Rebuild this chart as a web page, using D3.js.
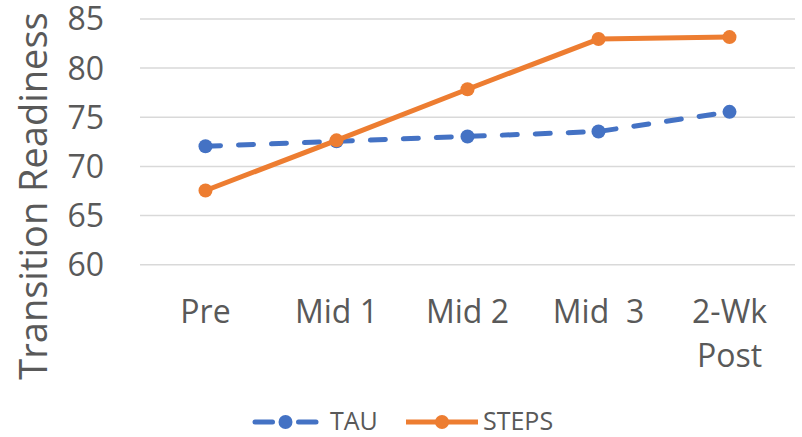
<!DOCTYPE html>
<html>
<head>
<meta charset="utf-8">
<script src="https://cdn.jsdelivr.net/npm/d3@7"></script>
<style>
  body { margin: 0; background: #ffffff; }
  svg { display: block; }
  text { font-family: "Open Sans", "DejaVu Sans", sans-serif; fill: #595959; white-space: pre; }
</style>
</head>
<body>
<svg id="chart" width="802" height="437"></svg>
<script>
// Measurement points (a "\n" splits a label over two lines)
const categories = ["Pre", "Mid 1", "Mid 2", "Mid  3", "2-Wk\nPost"];
// Mean transition readiness per group
const tauValues = [72.0, 72.5, 73.0, 73.5, 75.5];
const stepsValues = [67.5, 72.6, 77.8, 82.9, 83.1];
// Y axis ticks
const yTicks = [60, 65, 70, 75, 80, 85];
const seriesNames = ["TAU", "STEPS"];
const yTitle = "Transition Readiness";

const colors = { TAU: "#4472C4", STEPS: "#ED7D31" };
const series = [
  { name: seriesNames[0], values: tauValues, dashed: true },
  { name: seriesNames[1], values: stepsValues, dashed: false }
];

const svg = d3.select("#chart");
const plot = { left: 140, right: 795, top: 18.4, bottom: 264.3 };

const x = d3.scaleBand().domain(categories).range([plot.left, plot.right]).padding(0);
const cx = c => x(c) + x.bandwidth() / 2;
const y = d3.scaleLinear().domain([60, 85]).range([plot.bottom, plot.top]);

// Horizontal gridlines with value labels
const yAxis = svg.append("g")
  .attr("transform", `translate(${plot.left},0)`)
  .call(d3.axisLeft(y).tickValues(yTicks).tickSize(-(plot.right - plot.left)).tickPadding(36));
yAxis.select(".domain").remove();
yAxis.selectAll(".tick line").attr("stroke", "#D9D9D9").attr("stroke-width", 1.5);
yAxis.selectAll(".tick text")
  .attr("font-size", 32).attr("fill", "#595959")
  .attr("dy", "0.36em")
  .attr("font-family", '"Open Sans", sans-serif');

// Category labels along the bottom
const xAxis = svg.append("g")
  .attr("transform", `translate(0,${plot.bottom})`)
  .call(d3.axisBottom(x).tickSize(0).tickFormat(""));
xAxis.select(".domain").remove();
xAxis.selectAll(".tick").each(function(c) {
  const lines = c.split("\n");
  const t = d3.select(this).append("text")
    .attr("text-anchor", "middle")
    .attr("font-size", 32)
    .attr("font-family", '"Open Sans", sans-serif')
    .attr("fill", "#595959");
  lines.forEach((ln, i) => {
    t.append("tspan").attr("x", 0).attr("y", 59 + i * 44).text(ln);
  });
});

// Y axis title
svg.append("text")
  .attr("transform", `translate(47,196) rotate(-90)`)
  .attr("text-anchor", "middle")
  .attr("font-size", 38)
  .text(yTitle);

// Series lines and markers
const line = d3.line().x((d, i) => cx(categories[i])).y(d => y(d));
series.forEach(s => {
  const g = svg.append("g");
  g.append("path")
    .datum(s.values)
    .attr("d", line)
    .attr("fill", "none")
    .attr("stroke", colors[s.name])
    .attr("stroke-width", 5)
    .attr("stroke-linecap", s.dashed ? "round" : "butt")
    .attr("stroke-linejoin", "round")
    .attr("stroke-dasharray", s.dashed ? "15 18" : null);
  g.selectAll("circle")
    .data(s.values)
    .join("circle")
    .attr("cx", (d, i) => cx(categories[i]))
    .attr("cy", d => y(d))
    .attr("r", 7)
    .attr("fill", colors[s.name]);
});

// Legend
const legendItems = [
  { name: seriesNames[0], x0: 253, x1: 318, tx: 330, dashed: true },
  { name: seriesNames[1], x0: 406, x1: 478, tx: 483, dashed: false }
];
const ly = 422;
legendItems.forEach(it => {
  const g = svg.append("g");
  if (it.dashed) {
    const mid = (it.x0 + it.x1) / 2;
    [[it.x0 + 2, mid - 13], [mid + 13, it.x1 - 2]].forEach(([a, b]) => {
      g.append("line").attr("x1", a).attr("x2", b).attr("y1", ly).attr("y2", ly)
        .attr("stroke", colors[it.name]).attr("stroke-width", 5).attr("stroke-linecap", "round");
    });
  } else {
    g.append("line").attr("x1", it.x0).attr("x2", it.x1).attr("y1", ly).attr("y2", ly)
      .attr("stroke", colors[it.name]).attr("stroke-width", 5);
  }
  g.append("circle").attr("cx", (it.x0 + it.x1) / 2).attr("cy", ly).attr("r", 7)
    .attr("fill", colors[it.name]);
  g.append("text").attr("x", it.tx).attr("y", ly + 8)
    .attr("font-size", 25).text(it.name);
});
</script>
</body>
</html>
